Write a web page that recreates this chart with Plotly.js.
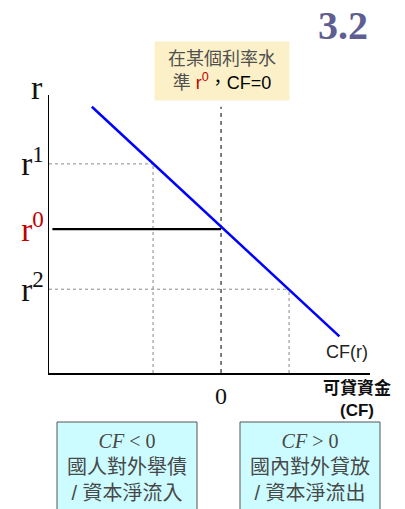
<!DOCTYPE html>
<html>
<head>
<meta charset="utf-8">
<script src="https://cdn.plot.ly/plotly-3.0.1.min.js"></script>
<style>html,body{margin:0;padding:0;background:#fff;}#chart{width:405px;height:509px;}</style>
</head>
<body>
<div id="chart"></div>
<script>
// Loanable-funds curve CF(r)
const cfX = [-1.9, 1.74];
const cfR = [1.97, -1.73];
// interest rate levels and their labels
const rLevels = [1.05, 0, -0.97];
const rLabels = ['r<sup>1</sup>', '<span style="color:#c00000">r<sup>0</sup></span>', 'r<sup>2</sup>'];
// CF at each rate level (r1, r0, r2)
const cfAtR = [-1, 0, 1];
const xTickVals = [0];
const xTickText = ['0'];

const xMin = -2.53, xMax = 2.19, yMin = -2.32, yMax = 2.16;
const serif = 'Liberation Serif, Times New Roman, serif';
const cjk = 'Arial, Liberation Sans, Noto Sans CJK TC, sans-serif';

const traces = [];
const lightDash = {color: '#8a8a8a', width: 1, dash: '3px,3px'};
// r1 guides
traces.push({x: [xMin, cfAtR[0]], y: [rLevels[0], rLevels[0]], mode: 'lines', line: lightDash, hoverinfo: 'skip'});
traces.push({x: [cfAtR[0], cfAtR[0]], y: [yMin, rLevels[0]], mode: 'lines', line: lightDash, hoverinfo: 'skip'});
// r2 guides
traces.push({x: [xMin, cfAtR[2]], y: [rLevels[2], rLevels[2]], mode: 'lines', line: lightDash, hoverinfo: 'skip'});
traces.push({x: [cfAtR[2], cfAtR[2]], y: [yMin, rLevels[2]], mode: 'lines', line: lightDash, hoverinfo: 'skip'});
// CF = 0 vertical
traces.push({x: [cfAtR[1], cfAtR[1]], y: [yMin, cfR[0]], mode: 'lines', line: {color: '#555', width: 1.5, dash: '4px,4px'}, hoverinfo: 'skip'});
// r0 solid line
traces.push({x: [-2.48, cfAtR[1]], y: [rLevels[1], rLevels[1]], mode: 'lines', line: {color: '#000', width: 2.2}, hoverinfo: 'skip'});
// CF(r)
traces.push({x: cfX, y: cfR, mode: 'lines', line: {color: '#0000ff', width: 2.5}, hoverinfo: 'skip'});

const boxText = (sign, l2, l3) =>
  '<span style="font-family:' + serif + '"><i>CF</i> ' + sign + ' 0</span><br>' + l2 + '<br>' + l3;

const px2x = p => (p - 49) / 321;
const px2y = p => (373 - p) / 278;

const layout = {
  width: 405, height: 509,
  margin: {l: 49, r: 35, t: 95, b: 136},
  showlegend: false,
  paper_bgcolor: '#fff', plot_bgcolor: '#fff',
  xaxis: {
    range: [xMin, xMax], showgrid: false, zeroline: false,
    showline: true, linecolor: '#000', linewidth: 1.5,
    tickvals: xTickVals, ticktext: xTickText, ticks: '',
    tickfont: {family: serif, size: 24, color: '#111'},
    ticklabelstandoff: 1, fixedrange: true
  },
  yaxis: {
    range: [yMin, yMax], showgrid: false, zeroline: false,
    showline: true, linecolor: '#000', linewidth: 1.5,
    tickvals: rLevels, ticktext: rLabels, ticks: '',
    tickfont: {family: serif, size: 33, color: '#111'},
    ticklabelstandoff: -3, fixedrange: true
  },
  shapes: [
    {type: 'rect', xref: 'paper', yref: 'paper', x0: px2x(57), x1: px2x(197), y0: px2y(520), y1: px2y(422),
     fillcolor: '#ccfcff', line: {color: '#555', width: 1}, layer: 'below'},
    {type: 'rect', xref: 'paper', yref: 'paper', x0: px2x(240), x1: px2x(380), y0: px2y(520), y1: px2y(422),
     fillcolor: '#ccfcff', line: {color: '#555', width: 1}, layer: 'below'}
  ],
  annotations: [
    {xref: 'paper', yref: 'paper', x: -0.012, y: px2y(88), xanchor: 'right', yanchor: 'middle',
     text: 'r', showarrow: false, font: {family: serif, size: 34, color: '#111'}},
    {xref: 'paper', yref: 'paper', x: 1.0, y: 1.25, xanchor: 'right', yanchor: 'middle',
     text: '<b>3.2</b>', showarrow: false, font: {family: serif, size: 40, color: '#5e5e92'}},
    {xref: 'paper', yref: 'paper', x: px2x(222), y: px2y(71), xanchor: 'center', yanchor: 'middle',
     text: '在某個利率水<br>準 <span style="color:#c00000">r<sup>0</sup></span><span style="color:#000">，CF=0</span>',
     showarrow: false, font: {family: cjk, size: 18, color: '#505050'},
     bgcolor: '#fcf0c8', width: 130, height: 54, borderpad: 2},
    {x: 1.74, y: -1.73, xanchor: 'center', yanchor: 'top', xshift: 8, yshift: -4,
     text: 'CF(r)', showarrow: false, font: {family: cjk, size: 18, color: '#222'}},
    {xref: 'paper', yref: 'paper', x: px2x(357), y: px2y(376), xanchor: 'center', yanchor: 'top',
     text: '<b>可貸資金<br>(CF)</b>', showarrow: false, font: {family: cjk, size: 17, color: '#111'}},
    {xref: 'paper', yref: 'paper', x: px2x(127), y: px2y(428), xanchor: 'center', yanchor: 'top',
     text: boxText('&lt;', '國人對外舉債', '/ 資本淨流入'), showarrow: false,
     font: {family: cjk, size: 20, color: '#484848'}, align: 'center'},
    {xref: 'paper', yref: 'paper', x: px2x(310), y: px2y(428), xanchor: 'center', yanchor: 'top',
     text: boxText('&gt;', '國內對外貸放', '/ 資本淨流出'), showarrow: false,
     font: {family: cjk, size: 20, color: '#484848'}, align: 'center'}
  ]
};

Plotly.newPlot('chart', traces, layout, {displayModeBar: false, staticPlot: true});
</script>
</body>
</html>
